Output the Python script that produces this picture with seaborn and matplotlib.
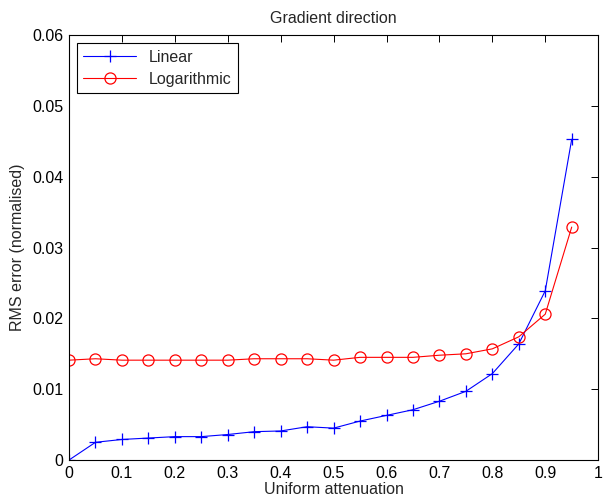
import numpy as np
import matplotlib
matplotlib.use("Agg")
import matplotlib.pyplot as plt
import seaborn as sns

# Data
attenuation = [0, 0.05, 0.1, 0.15, 0.2, 0.25, 0.3, 0.35, 0.4, 0.45, 0.5,
               0.55, 0.6, 0.65, 0.7, 0.75, 0.8, 0.85, 0.9, 0.95]
linear = [0.0, 0.0025, 0.0029, 0.0031, 0.0033, 0.0033, 0.0036, 0.0040, 0.0041, 0.0047, 0.0045,
          0.0055, 0.0063, 0.0071, 0.0083, 0.0097, 0.0122, 0.0164, 0.0239, 0.0453]
logarithmic = [0.0141, 0.0143, 0.0141, 0.0141, 0.0141, 0.0141, 0.0141, 0.0143, 0.0143, 0.0143, 0.0141,
               0.0145, 0.0145, 0.0145, 0.0148, 0.0150, 0.0157, 0.0174, 0.0206, 0.0329]

sns.set_theme(style="white")
plt.rcParams['font.family'] = ['Liberation Sans', 'DejaVu Sans']
fs = 11.5

fig = plt.figure(figsize=(6.11, 5.03), dpi=100)
ax = fig.add_axes([0.113, 0.0855, 0.866, 0.8445])

# two calls: seaborn won't mix '+' and 'o' markers in one style mapping
sns.lineplot(x=attenuation, y=linear, color="blue", marker="+", markersize=8,
             markeredgecolor="blue", markeredgewidth=0.9, linewidth=0.8,
             label="Linear", ax=ax)
sns.lineplot(x=attenuation, y=logarithmic, color="red", marker="o", markersize=8,
             markerfacecolor="none", markeredgecolor="red", markeredgewidth=0.9,
             linewidth=0.8, label="Logarithmic", ax=ax)

ax.set_xlim(0, 1)
ax.set_ylim(0, 0.06)
ax.set_xticks(np.arange(0, 1.01, 0.1))
ax.set_xticklabels(["0", "0.1", "0.2", "0.3", "0.4", "0.5", "0.6", "0.7", "0.8", "0.9", "1"])
ax.set_yticks(np.arange(0, 0.061, 0.01))
ax.set_yticklabels(["0", "0.01", "0.02", "0.03", "0.04", "0.05", "0.06"])
ax.tick_params(direction="in", top=True, right=True, length=5, width=0.7, labelsize=fs,
               colors="black", pad=4)
for s in ax.spines.values():
    s.set_color("black")
    s.set_linewidth(0.8)

ax.set_xlabel("Uniform attenuation", fontsize=fs, labelpad=1)
ax.set_ylabel("RMS error (normalised)", fontsize=fs, labelpad=5)
ax.set_title("Gradient direction", fontsize=fs, pad=9)

leg = ax.legend(loc="upper left", fontsize=fs, frameon=True, fancybox=False,
                edgecolor="black", borderpad=0.4, handlelength=3.3, labelspacing=0.45,
                borderaxespad=0.5)
leg.get_frame().set_linewidth(0.8)
leg.get_frame().set_alpha(1)

fig.savefig("out.png", dpi=100)
